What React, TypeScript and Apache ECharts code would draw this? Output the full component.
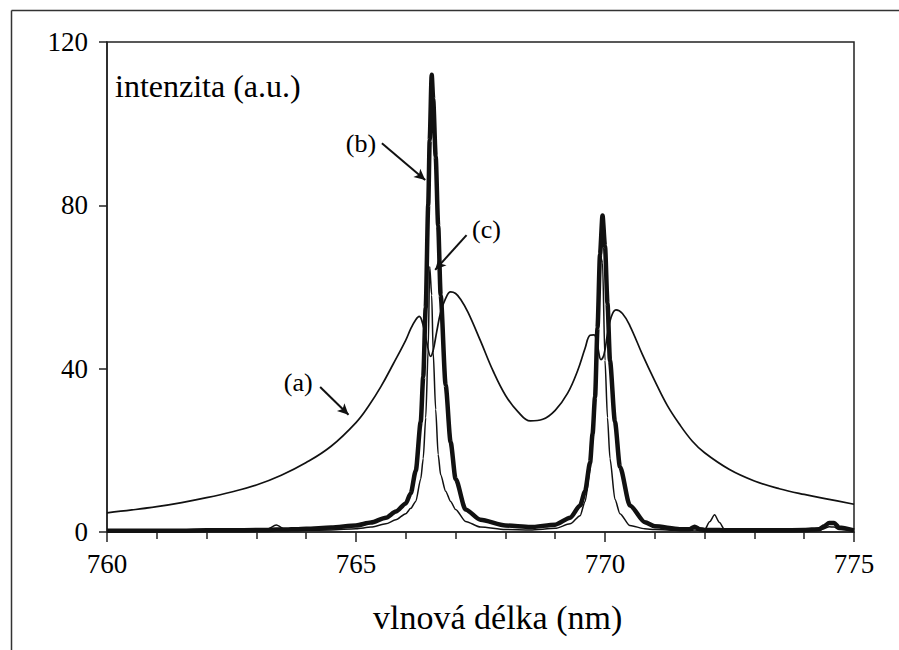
import { useEffect, useRef } from "react";
import * as echarts from "echarts";

// (a) broad, self-absorbed doublet: wavelength (nm) and intensity
const wavelengthsA = [
  760, 760.5, 761, 761.5, 762, 762.5, 763, 763.5, 764, 764.5, 765, 765.25, 765.5, 765.75, 766.0, 766.1,
  766.2, 766.27, 766.35, 766.42, 766.5, 766.55, 766.62, 766.7, 766.8, 766.9, 767.0, 767.1, 767.25, 767.5,
  767.75, 768.0, 768.25, 768.5, 768.75, 769.0, 769.25, 769.45, 769.6, 769.7, 769.78, 769.85, 769.92,
  769.98, 770.05, 770.12, 770.22, 770.35, 770.5, 770.75, 771.0, 771.25, 771.5, 771.75, 772.0, 772.5,
  773.0, 773.5, 774.0, 774.5, 775.0,
];
const spectrumA = [
  4.7, 5.4, 6.2, 7.2, 8.4, 9.8, 11.5, 13.9, 17.0, 21.0, 26.8, 30.8, 35.6, 41.2, 47.0, 49.8,
  52.0, 52.8, 50.5, 46.5, 43.0, 44.5, 49.0, 53.8, 57.2, 58.8, 58.4, 57.0, 53.8, 46.8,
  39.5, 33.5, 29.5, 27.2, 27.6, 29.8, 34.0, 39.5, 45.0, 48.2, 48.3, 45.5, 42.2,
  43.5, 48.5, 52.5, 54.4, 53.5, 50.5, 43.5, 37.0, 31.0, 26.3, 22.3, 19.4, 15.3,
  12.5, 10.6, 9.2, 8.0, 6.8,
];

// (b) and (c) narrow lines share one wavelength grid (nm)
const wavelengthsBC = [
  760, 760.5, 761, 761.5, 762, 762.5, 763, 763.2, 763.4, 763.6, 763.8, 764, 764.5, 765, 765.3, 765.6, 765.8,
  766.0, 766.1, 766.2, 766.3, 766.35, 766.4, 766.45, 766.48, 766.52, 766.55, 766.6, 766.65, 766.7, 766.8, 766.9,
  767.0, 767.2, 767.5, 768.0, 768.5, 769.0, 769.3, 769.5, 769.6, 769.7, 769.75, 769.8, 769.85, 769.9, 769.95,
  770.0, 770.05, 770.1, 770.2, 770.3, 770.5, 770.8, 771.0, 771.5, 771.7, 771.8, 771.9, 772.0, 772.1, 772.2,
  772.3, 772.4, 772.5, 773.0, 773.5, 774.0, 774.3, 774.4, 774.5, 774.6, 774.7, 775.0,
];

// (b) thick trace
const spectrumB = [
  0.3, 0.3, 0.3, 0.3, 0.4, 0.4, 0.5, 0.5, 0.6, 0.6, 0.7, 0.8, 1.1, 1.6, 2.3, 3.5, 5,
  7, 9.5, 15, 27, 38, 55, 80, 96, 112, 106, 92, 75, 58, 36, 22,
  13, 5.5, 3, 1.6, 1.2, 1.8, 3.5, 6.5, 10, 17, 24, 33, 50, 68, 77.5,
  70, 56, 42, 27, 16, 6.5, 2.4, 1.4, 0.7, 0.7, 1.3, 0.7, 0.5, 0.5, 0.5,
  0.5, 0.4, 0.4, 0.4, 0.4, 0.5, 0.7, 1.4, 2.2, 2.2, 1.1, 0.4,
];

// (c) thin trace
const spectrumC = [
  0.2, 0.2, 0.2, 0.2, 0.3, 0.3, 0.3, 0.6, 1.7, 0.5, 0.4, 0.4, 0.5, 0.8, 1.2, 2, 3,
  4.5, 5.8, 7.5, 13, 18, 28, 45, 65, 58, 44, 30, 19, 14, 10, 7.5,
  5.5, 2.6, 1.2, 0.6, 0.5, 0.9, 2, 4, 7.5, 15, 22, 33, 50, 68, 66,
  42, 28, 18, 8, 4.5, 1.6, 0.8, 0.6, 0.4, 0.4, 0.5, 0.4, 0.5, 2.5, 4.2,
  2.3, 0.6, 0.4, 0.3, 0.3, 0.3, 0.4, 0.8, 1.3, 1.2, 0.6, 0.3,
];

// Axis ranges
const xMin = 760;
const xMax = 775;
const xStep = 5;
const yMin = 0;
const yMax = 120;
const yStep = 40;

// Curve annotations: label position, arrow tail and arrow tip in data units
const annotationTexts = ["(a)", "(b)", "(c)"];
const annotationLabelAt = [
  [763.84, 36.5],
  [765.1, 95.1],
  [767.62, 74],
];
const arrowTails = [
  [764.28, 35.5],
  [765.52, 95.2],
  [767.22, 72.7],
];
const arrowTips = [
  [764.85, 28.7],
  [766.39, 86.2],
  [766.59, 64.2],
];

const serif = "Liberation Serif";
const ink = "#111";

const pairs = (xs: number[], ys: number[]) => xs.map((x, i) => [x, ys[i]]);

export default function App() {
  const ref = useRef<HTMLDivElement>(null);

  useEffect(() => {
    if (!ref.current) return;
    const chart = echarts.init(ref.current, null, { renderer: "svg" });

    const lineBase = {
      type: "line" as const,
      showSymbol: false,
      symbol: "none",
      silent: true,
    };

    chart.setOption({
      animation: false,
      backgroundColor: "#fff",
      textStyle: { fontFamily: serif },
      grid: {
        left: 107,
        top: 42,
        right: 45,
        bottom: 118,
        show: true,
        borderColor: "#222",
        borderWidth: 1.5,
        backgroundColor: "transparent",
      },
      xAxis: {
        type: "value",
        min: xMin,
        max: xMax,
        interval: xStep,
        axisLine: { lineStyle: { color: "#222", width: 1.5 } },
        axisTick: { show: true, length: 10, lineStyle: { color: "#222", width: 1.5 } },
        minorTick: { show: true, splitNumber: 5, length: 7, lineStyle: { color: "#222", width: 1.5 } },
        splitLine: { show: false },
        axisLabel: { color: "#000", fontFamily: serif, fontSize: 27, margin: 18 },
      },
      yAxis: {
        type: "value",
        min: yMin,
        max: yMax,
        interval: yStep,
        axisLine: { show: true, lineStyle: { color: "#222", width: 1.5 } },
        axisTick: { show: true, length: 8, lineStyle: { color: "#222", width: 1.5 } },
        splitLine: { show: false },
        axisLabel: { color: "#000", fontFamily: serif, fontSize: 27, margin: 19 },
      },
      series: [
        {
          ...lineBase,
          name: "a",
          data: pairs(wavelengthsA, spectrumA),
          smooth: 0.4,
          lineStyle: { color: ink, width: 1.7 },
          z: 2,
          markLine: {
            silent: true,
            symbol: ["none", "arrow"],
            symbolSize: [8, 11],
            lineStyle: { color: ink, width: 2, type: "solid" },
            label: { show: false },
            data: arrowTails.map((t, i) => [{ coord: t }, { coord: arrowTips[i] }]),
          },
          markPoint: {
            silent: true,
            symbol: "circle",
            symbolSize: 0,
            label: {
              show: true,
              position: "inside",
              color: "#000",
              fontFamily: serif,
              fontSize: 26,
              formatter: (p: any) => p.name,
            },
            data: annotationLabelAt.map((c, i) => ({ name: annotationTexts[i], coord: c })),
          },
        },
        {
          ...lineBase,
          name: "c",
          data: pairs(wavelengthsBC, spectrumC),
          smooth: 0.25,
          smoothMonotone: "x",
          lineStyle: { color: ink, width: 1.5 },
          z: 3,
        },
        {
          ...lineBase,
          name: "b",
          data: pairs(wavelengthsBC, spectrumB),
          smooth: 0.25,
          smoothMonotone: "x",
          lineStyle: { color: ink, width: 4.5 },
          z: 4,
        },
      ],
      graphic: [
        {
          type: "line",
          silent: true,
          shape: { x1: 11.5, y1: 10.5, x2: 899, y2: 10.5 },
          style: { stroke: "#333", lineWidth: 1.5 },
        },
        {
          type: "line",
          silent: true,
          shape: { x1: 11.5, y1: 10.5, x2: 11.5, y2: 650 },
          style: { stroke: "#333", lineWidth: 1.5 },
        },
        {
          type: "text",
          left: 115,
          top: 70,
          silent: true,
          style: { text: "intenzita (a.u.)", fontFamily: serif, fontSize: 32, fill: "#000" },
        },
        {
          type: "text",
          left: 373,
          top: 600,
          silent: true,
          style: { text: "vlnová délka (nm)", fontFamily: serif, fontSize: 34, fill: "#000" },
        },
      ],
    });

    return () => chart.dispose();
  }, []);

  return (
    <div
      ref={ref}
      style={{ position: "absolute", left: 0, top: 0, width: 899, height: 650, background: "#fff" }}
    />
  );
}
